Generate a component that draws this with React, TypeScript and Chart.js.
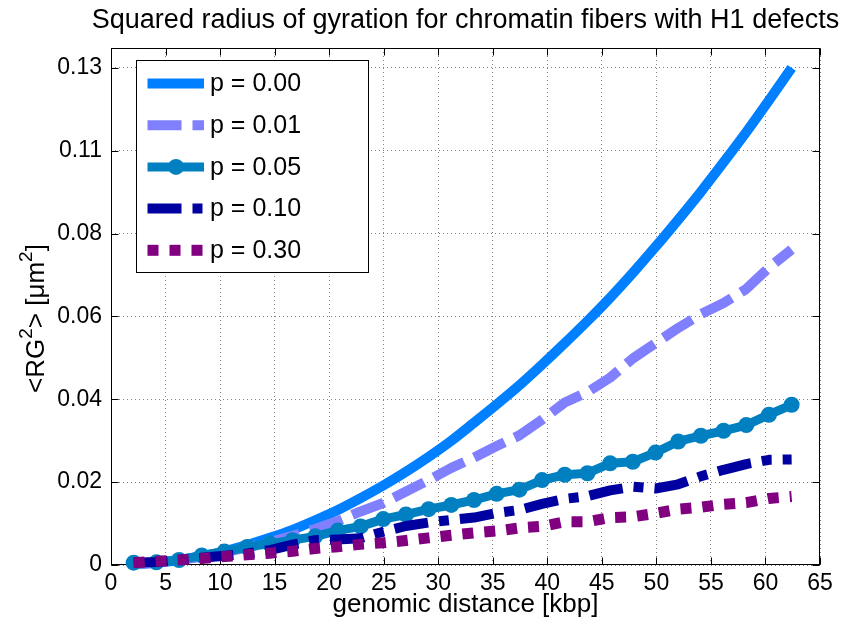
import React, { useEffect, useRef } from 'react';
import { Chart, registerables } from 'chart.js';

Chart.register(...registerables);

const FONT = '"Liberation Sans", Arial, Helvetica, sans-serif';

// genomic distance [kbp]
const X_KBP = [2.08, 4.16, 6.24, 8.32, 10.4, 12.48, 14.56, 16.64, 18.72, 20.8, 22.88, 24.96, 27.04, 29.12, 31.2, 33.28, 35.36, 37.44, 39.52, 41.6, 43.68, 45.76, 47.84, 49.92, 52.0, 54.08, 56.16, 58.24, 60.32, 62.4];

const P000 = [0.00014, 0.00058, 0.0013, 0.0023, 0.0036, 0.0052, 0.0071, 0.0092, 0.0117, 0.0144, 0.0175, 0.0208, 0.0244, 0.0283, 0.0325, 0.0372, 0.042, 0.047, 0.0524, 0.058, 0.0638, 0.0699, 0.0764, 0.0832, 0.0903, 0.0976, 0.1053, 0.1132, 0.1215, 0.13];
const P001 = [0.0002, 0.0006, 0.0013, 0.0022, 0.0033, 0.0046, 0.006, 0.0076, 0.0094, 0.0115, 0.014, 0.0162, 0.0192, 0.0222, 0.0254, 0.0281, 0.0311, 0.0339, 0.038, 0.0425, 0.0452, 0.049, 0.054, 0.058, 0.062, 0.0656, 0.0685, 0.0722, 0.0778, 0.0825];
const P005 = [0.0006, 0.0007, 0.0013, 0.0025, 0.0035, 0.0047, 0.0056, 0.0065, 0.0075, 0.009, 0.0101, 0.012, 0.0132, 0.0146, 0.0157, 0.017, 0.0186, 0.0197, 0.0222, 0.0236, 0.024, 0.0266, 0.027, 0.0294, 0.0323, 0.0338, 0.0351, 0.0366, 0.0393, 0.0419];
const P010 = [0.0006, 0.0008, 0.0013, 0.0019, 0.0024, 0.003, 0.0039, 0.0053, 0.0065, 0.0067, 0.007, 0.0087, 0.0102, 0.0111, 0.0118, 0.0124, 0.0136, 0.0144, 0.016, 0.0173, 0.018, 0.0195, 0.0205, 0.02, 0.0211, 0.0232, 0.0249, 0.0264, 0.0275, 0.0276];
const P030 = [0.0006, 0.001, 0.0013, 0.0017, 0.0022, 0.0027, 0.0031, 0.0036, 0.0043, 0.0048, 0.0054, 0.0058, 0.0064, 0.0071, 0.0078, 0.0084, 0.0089, 0.0097, 0.0101, 0.0113, 0.0113, 0.0124, 0.0126, 0.0135, 0.0146, 0.0151, 0.0159, 0.0163, 0.0174, 0.0179];

const SERIES_LABELS = ['p = 0.00', 'p = 0.01', 'p = 0.05', 'p = 0.10', 'p = 0.30'];

const X_TICKS = [0, 5, 10, 15, 20, 25, 30, 35, 40, 45, 50, 55, 60, 65];
const Y_TICK_VALUES = [0, 0.02167, 0.04333, 0.065, 0.08667, 0.10833, 0.13];
const Y_TICK_LABELS = ['0', '0.02', '0.04', '0.06', '0.08', '0.11', '0.13'];

const TITLE = 'Squared radius of gyration for chromatin fibers with H1 defects';
const X_LABEL = 'genomic distance [kbp]';
const Y_LABEL_PARTS = [
  { t: '<RG', sup: false },
  { t: '2', sup: true },
  { t: '> [\u03bcm', sup: false },
  { t: '2', sup: true },
  { t: ']', sup: false },
];

const decorPlugin = {
  id: 'matlabDecor',
  beforeDatasetsDraw(chart: any) {
    const { ctx, chartArea, scales } = chart;
    const { left, right, top, bottom } = chartArea;
    ctx.save();
    ctx.strokeStyle = '#000';
    ctx.lineWidth = 1;
    ctx.setLineDash([]);
    const L = Math.round(left) + 0.5;
    const R = Math.round(right) - 0.5;
    const T = Math.round(top) + 0.5;
    const B = Math.round(bottom) - 0.5;
    ctx.strokeRect(L, T, R - L, B - T);
    ctx.beginPath();
    X_TICKS.forEach((v) => {
      const px = Math.round(scales.x.getPixelForValue(v)) + 0.5;
      ctx.moveTo(px, B);
      ctx.lineTo(px, B - 7);
      ctx.moveTo(px, T);
      ctx.lineTo(px, T + 7);
    });
    Y_TICK_VALUES.forEach((v) => {
      const py = Math.round(scales.y.getPixelForValue(v)) + 0.5;
      ctx.moveTo(L, py);
      ctx.lineTo(L + 7, py);
      ctx.moveTo(R, py);
      ctx.lineTo(R - 7, py);
    });
    ctx.stroke();
    ctx.restore();
  },
  afterDraw(chart: any) {
    const { ctx, chartArea } = chart;
    const { left, right, top, bottom } = chartArea;
    const cx = (left + right) / 2;
    const cy = (top + bottom) / 2;
    ctx.save();
    ctx.fillStyle = '#000';
    ctx.textBaseline = 'alphabetic';

    // title
    ctx.font = `27px ${FONT}`;
    ctx.textAlign = 'center';
    ctx.fillText(TITLE, cx, 28);

    // x label
    ctx.font = `26px ${FONT}`;
    ctx.fillText(X_LABEL, cx, 612);

    // y label with superscripts
    const mainFont = `26px ${FONT}`;
    const supFont = `19px ${FONT}`;
    let total = 0;
    Y_LABEL_PARTS.forEach((p) => {
      ctx.font = p.sup ? supFont : mainFont;
      total += ctx.measureText(p.t).width;
    });
    ctx.save();
    ctx.translate(44, cy + 12);
    ctx.rotate(-Math.PI / 2);
    ctx.textAlign = 'left';
    let xx = -total / 2;
    Y_LABEL_PARTS.forEach((p) => {
      ctx.font = p.sup ? supFont : mainFont;
      ctx.fillText(p.t, xx, p.sup ? -12 : 0);
      xx += ctx.measureText(p.t).width;
    });
    ctx.restore();

    // legend
    const bx = 136.5, by = 60.5, bw = 232, bh = 212;
    ctx.fillStyle = '#fff';
    ctx.fillRect(bx, by, bw, bh);
    ctx.strokeStyle = '#000';
    ctx.lineWidth = 1;
    ctx.setLineDash([]);
    ctx.strokeRect(bx, by, bw, bh);
    const datasets = chart.data.datasets;
    datasets.forEach((ds: any, i: number) => {
      const y = 83.5 + i * 41.7;
      ctx.save();
      ctx.strokeStyle = ds.borderColor;
      ctx.lineWidth = ds.borderWidth;
      ctx.lineCap = 'butt';
      ctx.setLineDash(ds.borderDash || []);
      ctx.beginPath();
      ctx.moveTo(147.5, y);
      ctx.lineTo(204, y);
      ctx.stroke();
      if (ds.pointRadius > 0) {
        ctx.fillStyle = ds.pointBackgroundColor;
        ctx.beginPath();
        ctx.arc(176, y, ds.pointRadius, 0, Math.PI * 2);
        ctx.fill();
      }
      ctx.restore();
      ctx.fillStyle = '#000';
      ctx.font = `25px ${FONT}`;
      ctx.textAlign = 'left';
      ctx.textBaseline = 'middle';
      ctx.fillText(ds.label, 210, y + 1);
    });
    ctx.restore();
  },
};

export default function App() {
  const ref = useRef<HTMLCanvasElement | null>(null);

  useEffect(() => {
    document.body.style.margin = '0';
    const canvas = ref.current;
    if (!canvas) return;
    const mk = (arr: number[]) => arr.map((v, i) => ({ x: X_KBP[i], y: v }));
    const common = {
      fill: false,
      clip: false,
      borderCapStyle: 'butt',
      borderJoinStyle: 'round',
      pointRadius: 0,
      pointHoverRadius: 0,
      tension: 0,
    };
    const chart = new Chart(canvas, {
      type: 'line',
      data: {
        datasets: [
          { ...common, label: SERIES_LABELS[0], data: mk(P000), borderColor: '#0080FF', borderWidth: 10, tension: 0.3, order: 5 },
          { ...common, label: SERIES_LABELS[1], data: mk(P001), borderColor: '#8080FF', borderWidth: 10, borderDash: [34, 11], order: 4 },
          {
            ...common, label: SERIES_LABELS[2], data: mk(P005), borderColor: '#0080C0', borderWidth: 9,
            pointRadius: 8, pointBackgroundColor: '#0080C0', pointBorderWidth: 0, pointBorderColor: '#0080C0', order: 3,
          },
          { ...common, label: SERIES_LABELS[3], data: mk(P010), borderColor: '#0000A0', borderWidth: 10, borderDash: [34, 11, 10, 11], order: 2 },
          { ...common, label: SERIES_LABELS[4], data: mk(P030), borderColor: '#800080', borderWidth: 11, borderDash: [11, 11], order: 1 },
        ] as any,
      },
      options: {
        responsive: false,
        animation: false,
        events: [],
        layout: { padding: { top: 48, right: 25, left: 0, bottom: 0 } },
        plugins: { legend: { display: false }, tooltip: { enabled: false }, title: { display: false } },
        scales: {
          x: {
            type: 'linear',
            min: 0,
            max: 65,
            afterBuildTicks: (s: any) => { s.ticks = X_TICKS.map((v) => ({ value: v })); },
            afterFit: (s: any) => { s.height = 64; },
            grid: { color: 'rgba(0,0,0,0.5)', lineWidth: 1, drawTicks: false },
            border: { display: false, dash: [1, 3] },
            ticks: {
              autoSkip: false,
              maxRotation: 0,
              padding: 5,
              color: '#000',
              font: { family: FONT, size: 23 },
              callback: (v: any) => String(v),
            },
          },
          y: {
            type: 'linear',
            min: 0,
            max: 0.1352,
            afterBuildTicks: (s: any) => { s.ticks = Y_TICK_VALUES.map((v) => ({ value: v })); },
            afterFit: (s: any) => { s.width = 111; },
            grid: { color: 'rgba(0,0,0,0.5)', lineWidth: 1, drawTicks: false },
            border: { display: false, dash: [1, 3] },
            ticks: {
              autoSkip: false,
              padding: 9,
              color: '#000',
              font: { family: FONT, size: 23 },
              callback: (_v: any, i: number) => Y_TICK_LABELS[i],
            },
          },
        },
      } as any,
      plugins: [decorPlugin],
    });
    return () => chart.destroy();
  }, []);

  return (
    <div style={{ width: 845, height: 629, background: '#fff' }}>
      <canvas ref={ref} width={845} height={629} style={{ display: 'block' }} />
    </div>
  );
}
